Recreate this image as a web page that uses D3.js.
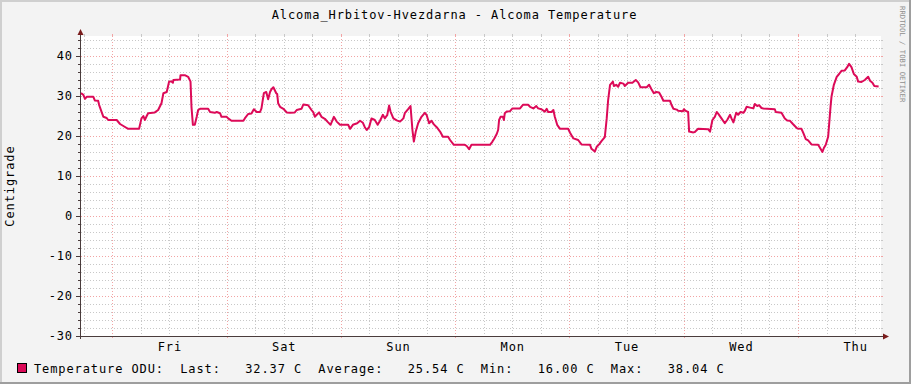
<!DOCTYPE html>
<html>
<head>
<meta charset="utf-8">
<script src="https://cdn.jsdelivr.net/npm/d3@7"></script>
<style>
body { margin: 0; background: #f3f3f3; }
text { font-family: "DejaVu Sans Mono", monospace; fill: #000; }
</style>
</head>
<body>
<svg id="chart" width="911" height="384"></svg>
<script>

// chart text
var title = "Alcoma_Hrbitov-Hvezdarna - Alcoma Temperature"
var yTitle = "Centigrade"
var seriesName = "Temperature ODU"
var unit = "C"
var watermark = "RRDTOOL / TOBI OETIKER"

// one week, starting thursday afternoon
var startTime = new Date(2021, 0, 7, 17, 26)
var spanHours = 168

var yDomain = [-30, 45]
var yMajor = [-30, -20, -10, 0, 10, 20, 30, 40]

var statNames = ["Last", "Average", "Min", "Max"]
var statValues = [32.37, 25.54, 16.00, 38.04]

// hours after startTime
var hours = [0.0, 0.5, 0.84, 1.2, 2.6, 2.9, 3.6, 3.8, 4.3, 4.7, 5.4, 5.7, 7.5, 8.2, 8.9, 9.9, 12.2, 12.7, 13.1, 13.4,
	13.8, 14.1, 15.5, 16.2, 16.9, 17.3, 18.0, 18.5, 19.0, 19.3, 19.4, 20.8, 20.9, 21.8, 22.5, 23.0, 23.2, 23.5, 23.9, 24.3,
	24.6, 25.0, 26.7, 27.1, 28.1, 28.5, 29.2, 29.5, 30.6, 30.9, 31.6, 34.1, 34.4, 35.1, 35.8, 36.3, 36.9, 37.6, 37.9, 38.4,
	38.9, 39.3, 39.7, 40.0, 40.4, 41.0, 41.2, 41.4, 41.8, 42.5, 43.2, 43.9, 44.9, 45.3, 46.3, 46.7, 47.7, 48.4, 48.8, 49.1,
	49.5, 50.0, 50.5, 51.2, 51.9, 52.4, 53.1, 53.7, 54.4, 56.1, 56.5, 57.1, 58.0, 58.6, 59.2, 59.6, 60.0, 60.5, 61.0, 61.7,
	62.3, 62.8, 63.4, 63.8, 64.3, 64.7, 65.0, 65.6, 66.3, 67.0, 67.7, 68.0, 68.7, 69.2, 69.6, 69.9, 70.3, 70.8, 71.5, 72.2,
	72.6, 73.1, 73.6, 74.1, 74.7, 75.4, 76.0, 77.1, 77.5, 78.3, 80.6, 81.0, 81.5, 82.0, 85.9, 86.4, 86.8, 87.3, 87.6, 87.8,
	88.1, 88.6, 88.8, 89.0, 89.4, 90.1, 90.6, 92.2, 92.8, 93.9, 94.3, 95.0, 95.6, 96.0, 96.7, 97.4, 97.8, 98.1, 98.8, 99.2,
	99.5, 100.0, 100.6, 102.3, 102.7, 103.4, 104.4, 105.1, 106.9, 107.2, 107.9, 108.3, 108.8, 109.3, 110.0, 110.4, 110.7, 111.1, 111.7, 111.9,
	112.4, 112.8, 113.2, 113.9, 114.2, 114.9, 115.8, 116.5, 117.0, 117.5, 118.8, 119.3, 119.8, 120.3, 120.8, 121.4, 121.9, 122.3, 123.7, 124.0,
	124.4, 125.1, 125.4, 126.4, 126.6, 127.1, 127.5, 127.7, 128.6, 128.9, 129.6, 131.7, 132.1, 132.6, 133.1, 133.5, 133.8, 134.5, 135.2, 135.7,
	136.3, 136.6, 137.0, 137.6, 138.0, 138.5, 139.1, 139.4, 139.8, 140.5, 141.2, 141.5, 142.0, 142.4, 142.9, 143.3, 145.7, 145.9, 147.1, 147.8,
	148.3, 148.9, 149.5, 149.9, 150.4, 151.3, 151.7, 152.2, 152.7, 153.4, 154.8, 155.3, 155.7, 156.0, 156.4, 156.9, 157.4, 157.6, 158.1, 158.7,
	159.2, 159.7, 160.4, 160.9, 161.3, 161.8, 162.3, 162.9, 163.2, 163.9, 164.6, 165.3, 165.7, 166.2, 166.6, 167.5]

var temps = [30.7, 30.3, 29.3, 29.8, 29.8, 28.9, 28.8, 27.8, 26.1, 24.8, 24.5, 24.0, 24.0, 23.0, 22.5, 21.8, 21.8, 24.4, 25.0, 24.0,
	25.0, 25.7, 25.9, 26.5, 28.2, 30.7, 31.0, 33.6, 33.6, 33.3, 34.0, 34.1, 35.2, 35.2, 34.8, 33.6, 27.3, 22.8, 22.8, 24.8,
	26.5, 26.8, 26.8, 26.0, 25.8, 26.0, 25.7, 24.8, 24.8, 24.4, 23.8, 23.8, 24.4, 25.5, 25.6, 26.7, 26.0, 26.0, 26.9, 30.7,
	31.0, 29.2, 31.0, 31.7, 32.2, 30.7, 30.5, 28.2, 27.3, 26.8, 25.9, 25.8, 25.9, 26.5, 26.8, 27.9, 27.7, 26.5, 25.9, 24.8,
	25.3, 25.9, 24.8, 24.3, 23.4, 22.8, 24.8, 23.6, 22.8, 22.8, 21.8, 22.8, 23.2, 23.8, 23.3, 22.2, 21.5, 22.2, 24.4, 24.0,
	22.8, 23.8, 25.3, 24.4, 25.2, 27.6, 26.1, 24.4, 23.9, 23.6, 24.4, 25.7, 26.7, 27.5, 21.5, 18.6, 21.1, 23.2, 24.8, 25.8,
	25.2, 23.2, 23.8, 22.9, 22.2, 21.1, 19.8, 19.8, 19.0, 17.8, 17.8, 17.5, 16.7, 17.8, 17.8, 18.6, 19.4, 20.5, 21.5, 24.0,
	24.8, 24.8, 24.0, 25.7, 26.1, 26.2, 26.9, 26.9, 27.8, 27.8, 27.3, 26.9, 27.5, 26.9, 26.7, 26.1, 26.8, 26.0, 26.0, 26.5,
	24.8, 22.8, 21.8, 21.8, 20.8, 19.4, 19.0, 17.9, 17.8, 16.8, 16.1, 17.3, 17.9, 18.7, 19.7, 24.4, 29.0, 32.8, 33.6, 32.5,
	32.8, 32.3, 33.3, 33.1, 32.5, 33.3, 33.3, 34.0, 33.4, 32.2, 32.2, 32.8, 31.7, 30.7, 31.0, 30.9, 29.8, 28.8, 28.8, 27.8,
	26.8, 26.6, 26.3, 26.2, 26.7, 26.2, 26.0, 21.1, 20.9, 21.0, 21.8, 21.7, 21.1, 24.0, 24.8, 26.0, 25.6, 24.4, 23.2, 24.0,
	25.3, 24.4, 23.4, 25.8, 25.3, 26.0, 25.8, 26.3, 27.3, 27.1, 26.9, 28.0, 27.5, 27.7, 27.0, 26.9, 26.7, 26.0, 25.8, 24.4,
	23.9, 23.8, 23.0, 22.5, 21.9, 21.8, 20.7, 19.2, 18.9, 17.9, 17.8, 16.8, 16.0, 17.0, 17.8, 19.8, 27.3, 29.8, 32.8, 34.8,
	35.5, 36.3, 36.4, 37.2, 38.04, 37.2, 35.5, 34.8, 33.6, 33.5, 34.0, 34.8, 33.8, 33.3, 32.5, 32.37]


var lineColour = "#dc0a58"
var minorColour = "#c8c8c8"
var majorColour = "#f2a4a4"
var axisColour = "#4a3c3c"
var arrowColour = "#7a1c1c"

var svg = d3.select("#chart")

// plot box (top is a window property, so keep these in an object)
var box = { left: 81, right: 881, top: 36, bottom: 336 }

var endTime = new Date(+startTime + spanHours * 3600e3)

var x = d3.scaleTime()
	.domain([startTime, endTime])
	.range([box.left, box.right])

var y = d3.scaleLinear()
	.domain(yDomain)
	.range([box.bottom, box.top])

var data = hours.map(function(h, i) {
	return { time: new Date(+startTime + h * 3600e3), value: temps[i] }
})

// frame
svg.append("rect").attr("width", 911).attr("height", 384).attr("fill", "#f3f3f3")
svg.append("rect").attr("x", 0).attr("y", 0).attr("width", 911).attr("height", 2).attr("fill", "#cfcfcf")
svg.append("rect").attr("x", 0).attr("y", 0).attr("width", 2).attr("height", 384).attr("fill", "#cfcfcf")
svg.append("rect").attr("x", 909).attr("y", 0).attr("width", 2).attr("height", 384).attr("fill", "#9e9e9e")
svg.append("rect").attr("x", 0).attr("y", 382).attr("width", 911).attr("height", 2).attr("fill", "#9e9e9e")

svg.append("rect")
	.attr("x", box.left)
	.attr("y", box.top)
	.attr("width", box.right - box.left)
	.attr("height", box.bottom - box.top)
	.attr("fill", "#ffffff")

// grids
var sixHours = x.ticks(d3.timeHour.every(6)).filter(function(d) { return d.getHours() !== 0 })
var midnights = x.ticks(d3.timeDay.every(1))
var noons = x.ticks(d3.timeHour.every(12)).filter(function(d) { return d.getHours() === 12 })

var yMinor = d3.range(yDomain[0], yDomain[1] + 1, 2).filter(function(v) { return v % 10 !== 0 })

function px(v) { return Math.round(v) + 0.5 }

function vgrid(ticks, colour, below) {
	var g = svg.append("g")
	g.selectAll(".dash").data(ticks).enter().append("line")
		.attr("x1", function(d) { return px(x(d)) })
		.attr("x2", function(d) { return px(x(d)) })
		.attr("y1", box.top)
		.attr("y2", box.bottom)
		.attr("stroke", colour)
		.attr("stroke-dasharray", "1,2")
	g.selectAll(".tick").data(ticks).enter().append("line")
		.attr("x1", function(d) { return px(x(d)) })
		.attr("x2", function(d) { return px(x(d)) })
		.attr("y1", box.top - 2)
		.attr("y2", box.top)
		.attr("stroke", colour)
	if (below > 0) {
		g.selectAll(".btick").data(ticks).enter().append("line")
			.attr("x1", function(d) { return px(x(d)) })
			.attr("x2", function(d) { return px(x(d)) })
			.attr("y1", box.bottom)
			.attr("y2", box.bottom + below)
			.attr("stroke", colour)
	}
}

function hgrid(values, colour, leftTick) {
	var g = svg.append("g")
	g.selectAll(".dash").data(values).enter().append("line")
		.attr("x1", box.left)
		.attr("x2", box.right)
		.attr("y1", function(d) { return px(y(d)) })
		.attr("y2", function(d) { return px(y(d)) })
		.attr("stroke", colour)
		.attr("stroke-dasharray", "1,2")
	g.selectAll(".rtick").data(values).enter().append("line")
		.attr("x1", box.right)
		.attr("x2", box.right + 2)
		.attr("y1", function(d) { return px(y(d)) })
		.attr("y2", function(d) { return px(y(d)) })
		.attr("stroke", colour)
	g.selectAll(".ltick").data(values).enter().append("line")
		.attr("x1", box.left - 1 - leftTick)
		.attr("x2", box.left - 1)
		.attr("y1", function(d) { return px(y(d)) })
		.attr("y2", function(d) { return px(y(d)) })
		.attr("stroke", axisColour)
}

vgrid(sixHours, minorColour, 0)
hgrid(yMinor, minorColour, 2)
vgrid(midnights, majorColour, 2)
hgrid(yMajor.filter(function(v) { return v !== yDomain[0] }), majorColour, 4)

// axis labels
var yAxis = svg.append("g")
	.attr("transform", "translate(" + (box.left - 1) + ",0)")
	.call(d3.axisLeft(y).tickValues(yMajor).tickSize(0).tickPadding(7).tickFormat(function(d) { return String(d) }))

yAxis.select(".domain").remove()
yAxis.selectAll("text")
	.attr("font-family", "DejaVu Sans Mono")
	.attr("font-size", 12)
	.attr("letter-spacing", 0.9)
	.attr("fill", "#000")

var xAxis = svg.append("g")
	.attr("transform", "translate(0," + box.bottom + ")")
	.call(d3.axisBottom(x).tickValues(noons).tickSize(0).tickPadding(6.5).tickFormat(d3.timeFormat("%a")))

xAxis.select(".domain").remove()
xAxis.selectAll("text")
	.attr("font-family", "DejaVu Sans Mono")
	.attr("font-size", 12)
	.attr("letter-spacing", 0.9)
	.attr("fill", "#000")

// axes lines
svg.append("line")
	.attr("x1", box.left - 0.5).attr("x2", box.left - 0.5)
	.attr("y1", box.top - 3).attr("y2", box.bottom + 3)
	.attr("stroke", axisColour)

svg.append("line")
	.attr("x1", box.left - 5).attr("x2", box.right + 3)
	.attr("y1", box.bottom + 0.5).attr("y2", box.bottom + 0.5)
	.attr("stroke", axisColour)

svg.append("path")
	.attr("d", "M" + (box.left - 3.5) + "," + (box.top - 1) + "L" + (box.left + 2.5) + "," + (box.top - 1) + "L" + (box.left - 0.5) + "," + (box.top - 7) + "Z")
	.attr("fill", arrowColour)

svg.append("path")
	.attr("d", "M" + (box.right + 2) + "," + (box.bottom - 2.5) + "L" + (box.right + 2) + "," + (box.bottom + 3.5) + "L" + (box.right + 8) + "," + (box.bottom + 0.5) + "Z")
	.attr("fill", arrowColour)

// the series
var line = d3.line()
	.x(function(d) { return x(d.time) })
	.y(function(d) { return y(d.value) })

svg.append("path")
	.datum(data)
	.attr("d", line)
	.attr("fill", "none")
	.attr("stroke", lineColour)
	.attr("stroke-width", 2)
	.attr("stroke-linejoin", "round")

// title and side labels
svg.append("text")
	.attr("x", 454.5)
	.attr("y", 19)
	.attr("text-anchor", "middle")
	.attr("font-size", 12)
	.attr("letter-spacing", 0.9)
	.text(title)

svg.append("text")
	.attr("transform", "translate(14," + ((box.top + box.bottom) / 2) + ") rotate(-90)")
	.attr("text-anchor", "middle")
	.attr("font-size", 12)
	.attr("letter-spacing", 0.9)
	.text(yTitle)

svg.append("text")
	.attr("transform", "translate(899.5,6) rotate(90)")
	.attr("font-size", 7.2)
	.attr("letter-spacing", 0.05)
	.style("fill", "#8f8f8f")
	.text(watermark)

// legend
function pad(s, n) {
	while (s.length < n) s = " " + s
	return s
}

var legendText = seriesName + ":  " + statNames.map(function(name, i) {
	return name + ":" + pad(statValues[i].toFixed(2), 8) + " " + unit
}).join("  ")

svg.append("rect")
	.attr("x", 17.5)
	.attr("y", 363.5)
	.attr("width", 9)
	.attr("height", 9)
	.attr("fill", lineColour)
	.attr("stroke", "#000")

svg.append("text")
	.attr("x", 34)
	.attr("y", 372.5)
	.attr("font-size", 12)
	.attr("letter-spacing", 0.9)
	.style("white-space", "pre")
	.text(legendText)

</script>
</body>
</html>
